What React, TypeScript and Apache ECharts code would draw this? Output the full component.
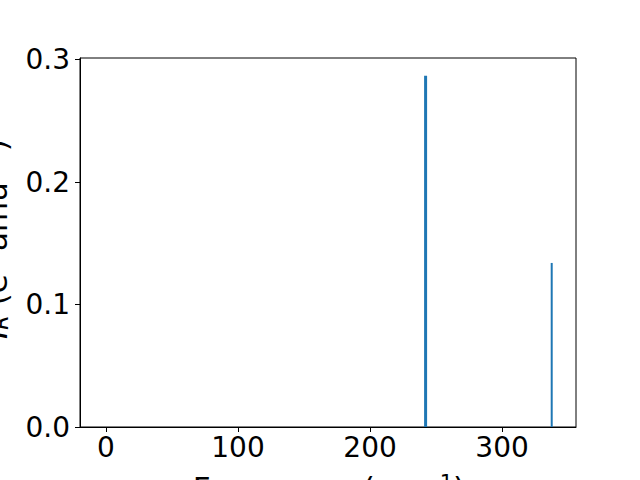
import React, { useEffect, useRef } from "react";
import * as echarts from "echarts";

const freqs = [241.7, 337.6];
const intensities = [0.287, 0.134];
const barWidths = [3, 2];
const xTicks = [0, 100, 200, 300];
const yTicks = [0, 0.1, 0.2, 0.3];

export default function App() {
  const ref = useRef<HTMLDivElement>(null);
  useEffect(() => {
    const chart = echarts.init(ref.current!, null, { renderer: "svg" });
    const font = "DejaVu Sans";
    chart.setOption({
      animation: false,
      grid: {
        left: 80,
        top: 58,
        right: 64,
        bottom: 53,
        show: true,
        borderColor: "#000",
        borderWidth: 1,
        backgroundColor: "transparent",
      },
      xAxis: {
        type: "value",
        min: -19.7,
        max: 356,
        splitLine: { show: false },
        axisLine: { show: true, onZero: false, lineStyle: { color: "#000", width: 1 } },
        axisTick: { show: true, length: 5, lineStyle: { color: "#000" }, customValues: xTicks },
        axisLabel: {
          customValues: xTicks,
          color: "#000",
          fontFamily: font,
          fontSize: 28,
          margin: 6,
          formatter: (v: number) => String(Math.round(v)),
        },
      },
      yAxis: {
        type: "value",
        min: 0,
        max: 0.3014,
        splitLine: { show: false },
        axisLine: { show: true, onZero: false, lineStyle: { color: "#000", width: 1 } },
        axisTick: { show: true, length: 5, lineStyle: { color: "#000" }, customValues: yTicks },
        axisLabel: {
          customValues: yTicks,
          color: "#000",
          fontFamily: font,
          fontSize: 28,
          margin: 10,
          formatter: (v: number) => v.toFixed(1),
        },
      },
      series: freqs.map((f, i) => ({
        type: "bar",
        data: [[f, intensities[i]]],
        barWidth: barWidths[i],
        barGap: "-100%",
        itemStyle: { color: "#1f77b4" },
      })),
      graphic: [
        {
          type: "text",
          x: 329,
          y: 472,
          style: {
            text: "Frequency (cm{sup|−1})",
            fontFamily: font,
            fontSize: 31,
            fill: "#000",
            align: "center",
            verticalAlign: "top",
            rich: {
              sup: { fontFamily: font, fontSize: 21, verticalAlign: "top", fill: "#000" },
            },
          },
        },
        {
          type: "text",
          x: 11,
          y: 239,
          rotation: Math.PI / 2,
          style: {
            text: "{it|I}{sub|R} (e{sup|2} amu{sup|−1})",
            fontFamily: font,
            fontSize: 31,
            fill: "#000",
            align: "center",
            verticalAlign: "bottom",
            rich: {
              it: { fontFamily: font, fontSize: 31, fontStyle: "italic", fill: "#000" },
              sub: { fontFamily: font, fontSize: 21, fontStyle: "italic", verticalAlign: "bottom", fill: "#000" },
              sup: { fontFamily: font, fontSize: 21, verticalAlign: "top", fill: "#000" },
            },
          },
        },
      ],
    });
    return () => chart.dispose();
  }, []);
  return (
    <div
      ref={ref}
      style={{ position: "fixed", left: 0, top: 0, width: 640, height: 480, background: "#fff" }}
    />
  );
}
